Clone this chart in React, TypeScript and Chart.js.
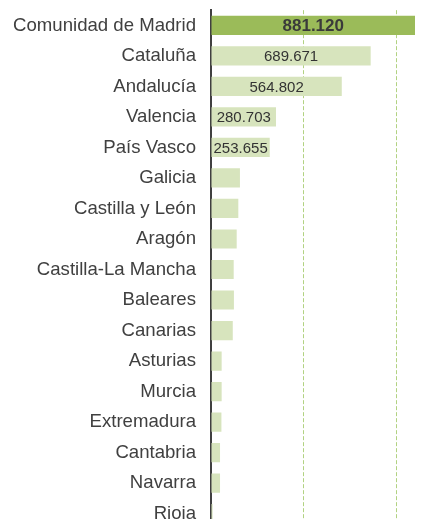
import React, { useEffect, useRef } from "react";
import { Chart, registerables } from "chart.js";

Chart.register(...registerables);

const regions = [
  "Comunidad de Madrid",
  "Cataluña",
  "Andalucía",
  "Valencia",
  "País Vasco",
  "Galicia",
  "Castilla y León",
  "Aragón",
  "Castilla-La Mancha",
  "Baleares",
  "Canarias",
  "Asturias",
  "Murcia",
  "Extremadura",
  "Cantabria",
  "Navarra",
  "Rioja",
];

const values = [
  881120, 689671, 564802, 280703, 253655, 125000, 118000, 111000, 98000, 99000,
  94000, 46000, 46000, 45000, 39000, 39000, 7000,
];

const gridTicks = [0, 400000, 800000];

const labelledCount = 5;

const fmt = (v: number) => {
  const s = Math.round(v).toString();
  return s.replace(/\B(?=(\d{3})+(?!\d))/g, ".");
};

export default function App() {
  const ref = useRef<HTMLCanvasElement | null>(null);

  useEffect(() => {
    if (!ref.current) return;
    const labelPlugin = {
      id: "barLabels",
      afterDatasetsDraw(chart: any) {
        const ctx = chart.ctx;
        const meta = chart.getDatasetMeta(0);
        ctx.save();
        ctx.textAlign = "center";
        ctx.textBaseline = "middle";
        meta.data.forEach((bar: any, i: number) => {
          if (i >= labelledCount) return;
          const { x, y, base } = bar.getProps(["x", "y", "base"], true);
          const cx = (x + base) / 2;
          if (i === 0) {
            ctx.font = "bold 17px 'Liberation Sans', Arial, sans-serif";
            ctx.fillStyle = "#3a3a3a";
          } else {
            ctx.font = "15px 'Liberation Sans', Arial, sans-serif";
            ctx.fillStyle = "#333333";
          }
          ctx.fillText(fmt(values[i]), cx, y + 1);
        });
        ctx.restore();
      },
    };

    const chart = new Chart(ref.current, {
      type: "bar",
      data: {
        labels: regions,
        datasets: [
          {
            data: values,
            backgroundColor: values.map((_, i) => (i === 0 ? "#9bbb59" : "#d7e4bd")),
            borderWidth: 0,
            categoryPercentage: 1,
            barPercentage: 0.63,
          },
        ],
      },
      plugins: [labelPlugin],
      options: {
        indexAxis: "y",
        animation: false,
        responsive: false,
        devicePixelRatio: 1,
        layout: { padding: { top: 0, right: 17, bottom: 0, left: 0 } },
        plugins: {
          legend: { display: false },
          tooltip: { enabled: false },
        },
        scales: {
          x: {
            min: 0,
            max: 881120,
            afterBuildTicks: (scale: any) => {
              scale.ticks = gridTicks.map((v) => ({ value: v }));
            },
            ticks: { display: false },
            grid: {
              color: (c: any) => (c.tick && c.tick.value === 0 ? "rgba(0,0,0,0)" : "#b2d282"),
              lineWidth: 1,
              drawTicks: false,
            },
            border: { display: false, dash: [4, 2] },
          },
          y: {
            grid: { display: false, drawTicks: false },
            border: { display: true, color: "#404040", width: 2 },
            ticks: {
              color: "#404040",
              padding: 15,
              font: { size: 18.6, family: "'Liberation Sans', Arial, sans-serif" },
              autoSkip: false,
            },
            afterFit: (scale: any) => {
              scale.width = 211;
            },
          },
        },
      },
    } as any);
    return () => chart.destroy();
  }, []);

  return (
    <div
      style={{
        position: "absolute",
        left: 0,
        top: 0,
        width: 432,
        height: 519,
        overflow: "hidden",
        background: "#ffffff",
      }}
    >
      <canvas
        ref={ref}
        width={432}
        height={571}
        style={{ display: "block", position: "absolute", left: 0, top: -16 }}
      />
    </div>
  );
}
